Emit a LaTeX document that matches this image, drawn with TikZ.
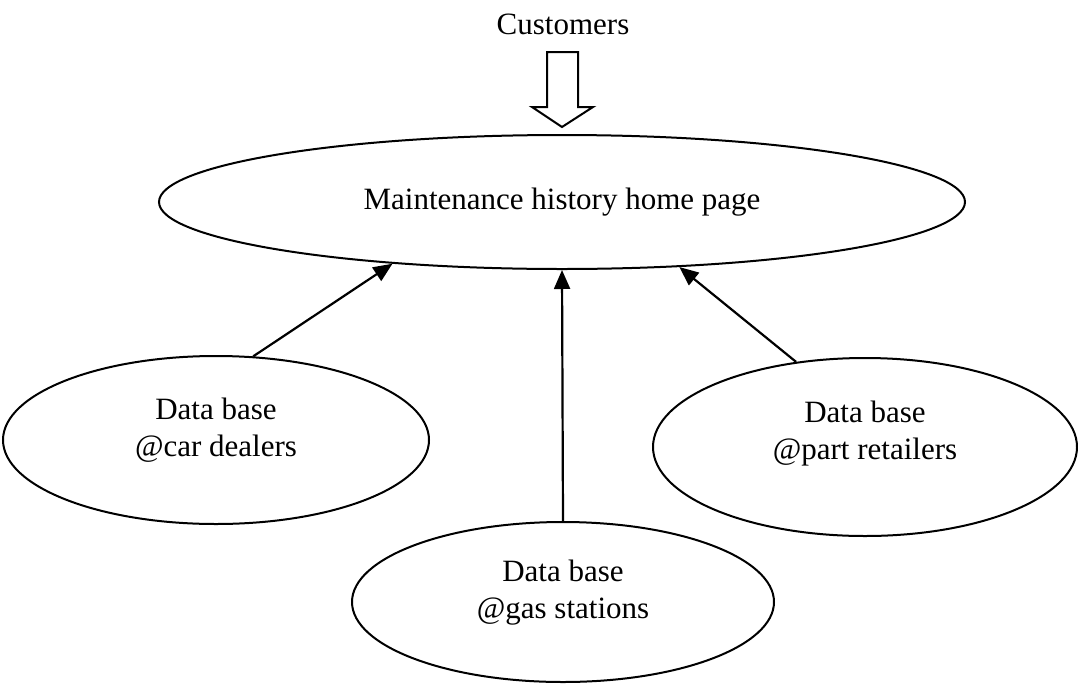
\documentclass[tikz,border=0pt]{standalone}
\usepackage{fontspec}
\setmainfont{Liberation Serif}
\usetikzlibrary{shapes.geometric,arrows.meta}
\begin{document}
\begin{tikzpicture}[x=1pt,y=-1pt,
  every node/.style={font=\fontsize{31}{37}\selectfont},
  oval/.style={ellipse,draw,line width=2pt,inner sep=0pt,align=center},
  conn/.style={line width=2.2pt,-{Triangle[length=19pt,width=16pt]}},
  blockarrow/.style={draw,line width=2pt,fill=white,line join=miter}]
\useasboundingbox[fill=white] (0,0) rectangle (1078,683);
\node (cust) at (563,24) {Customers};
\node[oval,minimum width=806pt,minimum height=134pt] (main) at (562,202) {Maintenance history home page};
\node[oval,minimum width=426pt,minimum height=168pt,text depth=25pt] (car) at (216,440) {Data base\\@car dealers};
\node[oval,minimum width=424pt,minimum height=178pt,text depth=33pt] (part) at (865,447) {Data base\\@part retailers};
\node[oval,minimum width=422pt,minimum height=160pt,text depth=25pt] (gas) at (563,602) {Data base\\@gas stations};
% block arrow from Customers to main page
\coordinate (tip) at ([yshift=7pt]main.north);
\path[blockarrow] ([xshift=-15pt,yshift=75pt]tip) -- ([xshift=16pt,yshift=75pt]tip)
  -- ([xshift=16pt,yshift=20pt]tip) -- ([xshift=31pt,yshift=20pt]tip)
  -- (tip) -- ([xshift=-30pt,yshift=20pt]tip) -- ([xshift=-15pt,yshift=20pt]tip) -- cycle;
\draw[conn] (car.66) -- (main.200.5);
\draw[conn] (gas.north) -- (main.south);
\draw[conn] (part.129) -- (main.331.5);
\end{tikzpicture}
\end{document}
